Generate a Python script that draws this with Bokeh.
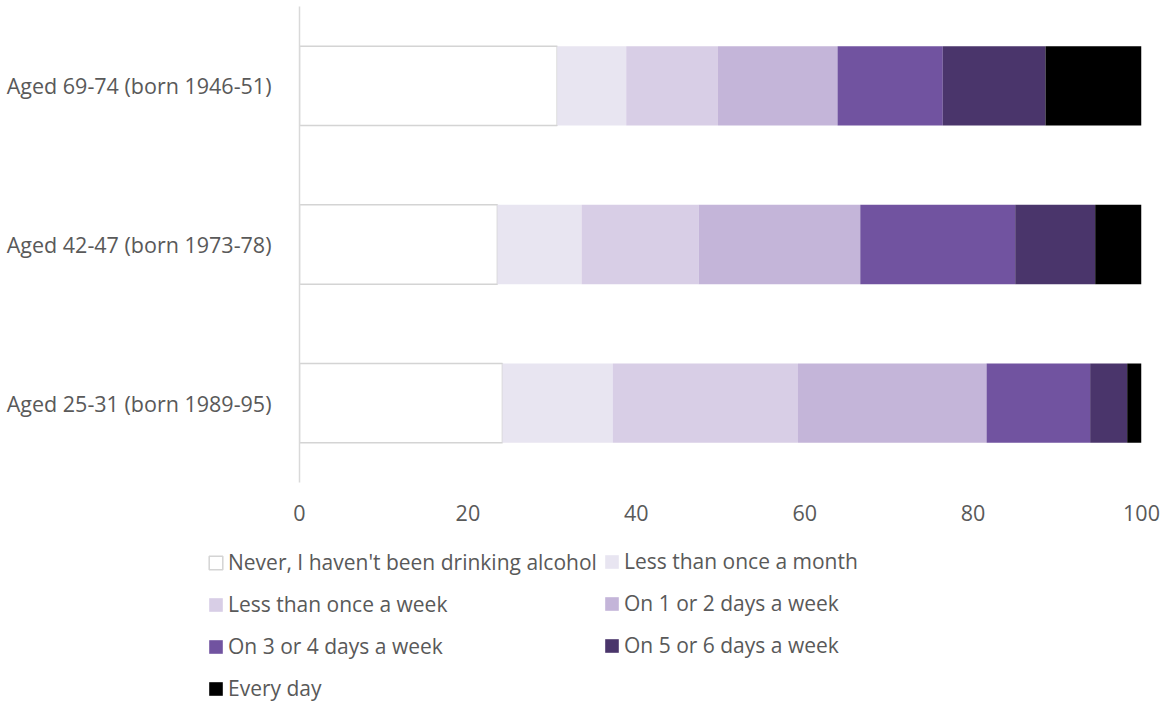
from bokeh.plotting import figure
from bokeh.models import Legend, LegendItem, FactorRange, Range1d, FixedTicker, ColumnDataSource
from bokeh.embed import file_html
from bokeh.resources import INLINE

# Categories (bottom to top)
groups = ["Aged 25-31 (born 1989-95)", "Aged 42-47 (born 1973-78)", "Aged 69-74 (born 1946-51)"]

series_names = [
    "Never, I haven't been drinking alcohol",
    "Less than once a month",
    "Less than once a week",
    "On 1 or 2 days a week",
    "On 3 or 4 days a week",
    "On 5 or 6 days a week",
    "Every day",
]

never = [24.1, 23.5, 30.6]
less_month = [13.1, 10.0, 8.2]
less_week = [22.0, 13.9, 10.9]
days_1_2 = [22.4, 19.2, 14.2]
days_3_4 = [12.3, 18.4, 12.5]
days_5_6 = [4.4, 9.5, 12.2]
every_day = [1.7, 5.5, 11.4]

x_ticks = [0, 20, 40, 60, 80, 100]

colors = ["#ffffff", "#e8e5f1", "#d8cee6", "#c4b5d9", "#7153a0", "#4a356b", "#000000"]
line_colors = ["#d4d4d4"] + colors[1:]
line_alphas = [1, 0, 0, 0, 0, 0, 0]

keys = ["s0", "s1", "s2", "s3", "s4", "s5", "s6"]
source = ColumnDataSource(dict(
    group=groups, s0=never, s1=less_month, s2=less_week, s3=days_1_2,
    s4=days_3_4, s5=days_5_6, s6=every_day,
))

FONT = "Open Sans"
TXT = "#595959"
FS = "21.5px"

p = figure(
    y_range=FactorRange(*groups),
    x_range=Range1d(0, 100),
    width=1160, height=530,
    output_backend="svg", toolbar_location=None,
    min_border_left=299, min_border_right=19, min_border_top=6, min_border_bottom=48,
)
p.outline_line_color = None
p.xgrid.grid_line_color = None
p.ygrid.grid_line_color = None

renderers = p.hbar_stack(
    keys, y="group", height=0.5, source=source,
    fill_color=colors,
    line_color=line_colors,
    line_alpha=line_alphas,
    line_width=1.5,
)

p.yaxis.axis_line_color = "#d9d9d9"
p.yaxis.axis_line_width = 1.5
p.yaxis.major_tick_line_color = None
p.yaxis.minor_tick_line_color = None
p.yaxis.major_label_text_font = FONT
p.yaxis.major_label_text_font_size = FS
p.yaxis.major_label_text_color = TXT
p.yaxis.major_label_standoff = 22

p.xaxis.ticker = FixedTicker(ticks=x_ticks)
p.xaxis.axis_line_color = None
p.xaxis.major_tick_line_color = None
p.xaxis.minor_tick_line_color = None
p.xaxis.major_label_text_font = FONT
p.xaxis.major_label_text_font_size = FS
p.xaxis.major_label_text_color = TXT
p.xaxis.major_label_standoff = 16

# Legend panel below the chart (separate root so its frame spans the full width)
p2 = figure(
    width=1160, height=176, x_range=Range1d(0, 1), y_range=Range1d(0, 1),
    output_backend="svg", toolbar_location=None,
    min_border_left=0, min_border_right=0, min_border_top=0, min_border_bottom=0,
    x_axis_type=None, y_axis_type=None,
)
p2.outline_line_color = None
p2.xgrid.grid_line_color = None
p2.ygrid.grid_line_color = None

proxies = []
for i in range(len(series_names)):
    # zero-size, off-range proxy glyph, only used to draw the legend swatch
    r = p2.hbar(y=[-50], left=[0], right=[0], height=0, fill_color=colors[i],
                line_color=line_colors[i], line_alpha=line_alphas[i], line_width=1.5)
    proxies.append(r)

def make_legend(idx, loc):
    items = [LegendItem(label=series_names[i], renderers=[proxies[i]]) for i in idx]
    return Legend(
        items=items, location=loc, orientation="vertical",
        padding=0, margin=0, spacing=14,
        border_line_alpha=0, background_fill_alpha=0,
        label_text_font=FONT, label_text_font_size="21px", label_text_color=TXT,
        glyph_width=17, glyph_height=17, label_standoff=4, label_height=20,
    )

p2.add_layout(make_legend([0, 2, 4, 6], (207, 4)), "center")
p2.add_layout(make_legend([1, 3, 5], (603, 47)), "center")

open("out.html", "w").write(file_html([p, p2], INLINE))
